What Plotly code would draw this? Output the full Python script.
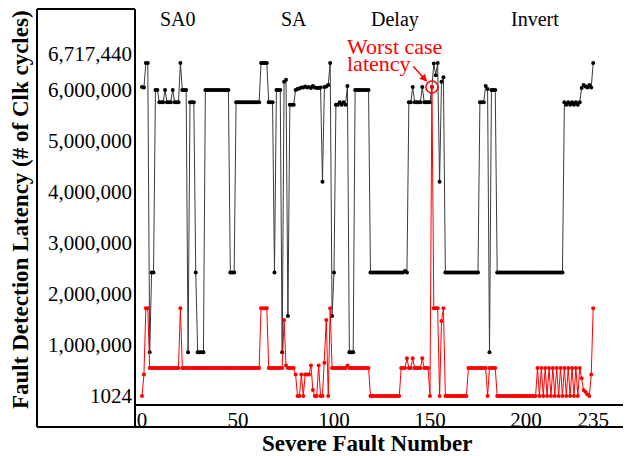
import plotly.graph_objects as go

# ---------------- data ----------------
fault_number = list(range(236))

# black series
latency_black = [
    6060000, 6050000, 6530000, 6530000, 860000, 2420000, 2420000, 6000000, 6000000, 5760000,
    5760000, 5760000, 6000000, 5760000, 5760000, 5760000, 6000000, 5760000, 5760000, 5760000,
    6530000, 6000000, 6000000, 6000000, 860000, 5760000, 5760000, 5760000, 2420000, 860000,
    860000, 860000, 860000, 6000000, 6000000, 6000000, 6000000, 6000000, 6000000, 6000000,
    6000000, 6000000, 6000000, 6000000, 6000000, 6000000, 2420000, 2420000, 2420000, 5760000,
    5760000, 5760000, 5760000, 5760000, 5760000, 5760000, 5760000, 5760000, 5760000, 5760000,
    5760000, 5760000, 6530000, 6530000, 6530000, 6530000, 5760000, 5760000, 5760000, 2420000,
    6000000, 6000000, 6000000, 860000, 6160000, 6200000, 1570000, 5710000, 5710000, 5710000,
    6000000, 6020000, 6030000, 6050000, 6050000, 6070000, 6050000, 6060000, 6040000, 6080000,
    6050000, 6040000, 6040000, 6050000, 4200000, 6060000, 6070000, 6100000, 6530000, 1570000,
    2420000, 5710000, 5710000, 5760000, 5710000, 5760000, 5710000, 6080000, 860000, 860000,
    860000, 6000000, 6000000, 6000000, 6000000, 6000000, 6000000, 6000000, 6000000, 2420000,
    2420000, 2420000, 2420000, 2420000, 2420000, 2420000, 2420000, 2420000, 2420000, 2420000,
    2420000, 2420000, 2420000, 2420000, 2420000, 2420000, 2420000, 2450000, 2420000, 5760000,
    5760000, 6060000, 5760000, 5760000, 5760000, 5760000, 6060000, 5760000, 5760000, 5760000,
    5760000, 6060000, 6520000, 6290000, 6530000, 4200000, 6160000, 6250000, 2420000, 2420000,
    2420000, 2420000, 2420000, 2420000, 2420000, 2420000, 2420000, 2420000, 2420000, 2420000,
    2420000, 2420000, 2420000, 2420000, 2420000, 2420000, 5760000, 5760000, 5760000, 6080000,
    6020000, 860000, 6000000, 6000000, 6000000, 2420000, 2420000, 2420000, 2420000, 2420000,
    2420000, 2420000, 2420000, 2420000, 2420000, 2420000, 2420000, 2420000, 2420000, 2420000,
    2420000, 2420000, 2420000, 2420000, 2420000, 2420000, 2420000, 2420000, 2420000, 2420000,
    2420000, 2420000, 2420000, 2420000, 2420000, 2420000, 2420000, 2420000, 2420000, 2420000,
    5760000, 5710000, 5760000, 5710000, 5760000, 5710000, 5760000, 5710000, 5760000, 6040000,
    6100000, 6070000, 6050000, 6100000, 6050000, 6530000,
]

# red series
latency_red = [
    1024, 420000, 1720000, 1720000, 550000, 550000, 550000, 550000, 550000, 550000,
    550000, 550000, 550000, 550000, 550000, 550000, 550000, 550000, 550000, 550000,
    1720000, 550000, 550000, 550000, 550000, 550000, 550000, 550000, 550000, 550000,
    550000, 550000, 550000, 550000, 550000, 550000, 550000, 550000, 550000, 550000,
    550000, 550000, 550000, 550000, 550000, 550000, 550000, 550000, 550000, 550000,
    550000, 550000, 550000, 550000, 550000, 550000, 550000, 550000, 550000, 550000,
    550000, 550000, 1720000, 1720000, 1720000, 1720000, 550000, 550000, 550000, 550000,
    550000, 550000, 550000, 550000, 1490000, 600000, 550000, 550000, 550000, 550000,
    420000, 1024, 1024, 420000, 1024, 420000, 420000, 420000, 600000, 120000,
    1024, 1024, 600000, 1024, 1024, 650000, 1490000, 1024, 1720000, 550000,
    550000, 550000, 550000, 550000, 550000, 550000, 550000, 600000, 550000, 550000,
    550000, 550000, 550000, 550000, 550000, 550000, 550000, 550000, 550000, 1024,
    1024, 1024, 1024, 1024, 1024, 1024, 1024, 1024, 1024, 1024,
    1024, 1024, 1024, 1024, 1024, 550000, 550000, 550000, 740000, 550000,
    550000, 740000, 550000, 550000, 550000, 550000, 740000, 550000, 550000, 550000,
    1024, 6060000, 1720000, 1720000, 1720000, 1024, 1470000, 1720000, 1024, 1024,
    1024, 1024, 1024, 1024, 1024, 1024, 1024, 1024, 1024, 1024,
    550000, 550000, 550000, 550000, 550000, 550000, 550000, 550000, 550000, 550000,
    1024, 550000, 550000, 550000, 550000, 1024, 1024, 1024, 1024, 1024,
    1024, 1024, 1024, 1024, 1024, 1024, 1024, 1024, 1024, 1024,
    1024, 1024, 1024, 1024, 1024, 1024, 550000, 1024, 550000, 1024,
    550000, 1024, 550000, 1024, 550000, 1024, 550000, 1024, 550000, 1024,
    550000, 1024, 550000, 1024, 550000, 1024, 550000, 1024, 550000, 350000,
    120000, 80000, 30000, 1024, 420000, 1720000,
]

y_tick_values = [1024, 1000000, 2000000, 3000000, 4000000, 5000000, 6000000, 6717440]
y_tick_labels = ["1024", "1,000,000", "2,000,000", "3,000,000", "4,000,000",
                 "5,000,000", "6,000,000", "6,717,440"]
x_tick_values = [0, 50, 100, 150, 200, 235]
x_tick_labels = ["0", "50", "100", "150", "200", "235"]

section_names = ["SA0", "SA", "Delay", "Invert"]
section_centers = [18.7, 79.2, 131.8, 204.7]

# ---------------- figure ----------------
FONT = "Liberation Serif"
OFF = 8                      # page body margin in the browser
W, H = 631 - OFF, 456 - OFF
L, R, T, B = 135 - OFF, 0, 9 - OFF, 51
plot_w = W - L - R
plot_h = H - T - B


def px(X):
    """screen x (window pixels) -> paper coordinate"""
    return (X - OFF - L) / plot_w


def py(Y):
    """screen y (window pixels) -> paper coordinate"""
    return (H - B - (Y - OFF)) / plot_h


fig = go.Figure()
fig.add_trace(go.Scatter(
    x=fault_number, y=latency_black, mode="lines+markers",
    line=dict(color="#3a3a3a", width=1),
    marker=dict(color="black", size=4),
    showlegend=False, hoverinfo="x+y",
))
fig.add_trace(go.Scatter(
    x=fault_number, y=latency_red, mode="lines+markers",
    line=dict(color="#ff0000", width=1),
    marker=dict(color="#ff0000", size=4),
    showlegend=False, hoverinfo="x+y",
))

worst_idx = max(range(len(latency_red)), key=lambda i: latency_red[i])
worst_val = latency_red[worst_idx]

line_style = dict(color="black", width=2)
shapes = [
    dict(type="line", xref="paper", yref="paper", x0=px(37), x1=px(135), y0=py(9), y1=py(9), line=line_style),
    dict(type="line", xref="paper", yref="paper", x0=px(37), x1=px(37), y0=py(9), y1=py(427), line=line_style),
    dict(type="line", xref="paper", yref="paper", x0=px(135), x1=px(135), y0=py(9), y1=py(427), line=line_style),
    dict(type="line", xref="paper", yref="paper", x0=px(135), x1=px(631), y0=py(405), y1=py(405), line=line_style),
    dict(type="line", xref="paper", yref="paper", x0=px(37), x1=px(631), y0=py(427), y1=py(427), line=line_style),
    dict(type="circle", xref="x", yref="y", xsizemode="pixel", ysizemode="pixel",
         xanchor=worst_idx, yanchor=worst_val, x0=-6, x1=6, y0=-6, y1=6,
         line=dict(color="#ff0000", width=1.5)),
]

annotations = []
for name, cx in zip(section_names, section_centers):
    annotations.append(dict(text=name, x=cx, xref="x", y=py(19), yref="paper",
                            showarrow=False, xanchor="center", yanchor="middle",
                            font=dict(family=FONT, size=20, color="black")))

annotations += [
    dict(text="Worst case", x=px(345), xref="paper", y=py(47), yref="paper",
         showarrow=False, xanchor="left", yanchor="middle",
         font=dict(family=FONT, size=22, color="#ff0000")),
    dict(text="latency", x=px(345), xref="paper", y=py(64), yref="paper",
         showarrow=False, xanchor="left", yanchor="middle",
         font=dict(family=FONT, size=22, color="#ff0000")),
    dict(text="", x=worst_idx, y=worst_val, xref="x", yref="y",
         ax=-20, ay=-22, showarrow=True, arrowcolor="#ff0000",
         arrowhead=2, arrowsize=1, arrowwidth=1.5, standoff=7),
    dict(text="<b>Fault Detection Latency (# of Clk cycles)</b>", x=px(20), xref="paper",
         y=py(210), yref="paper", textangle=-90, showarrow=False,
         xanchor="center", yanchor="middle",
         font=dict(family=FONT, size=23, color="black")),
    dict(text="<b>Severe Fault Number</b>", x=px(367), xref="paper",
         y=py(443), yref="paper", showarrow=False,
         xanchor="center", yanchor="middle",
         font=dict(family=FONT, size=23, color="black")),
]

fig.update_layout(
    width=W, height=H, autosize=False,
    margin=dict(l=L, r=R, t=T, b=B, pad=0),
    paper_bgcolor="white", plot_bgcolor="white",
    shapes=shapes, annotations=annotations,
    font=dict(family=FONT, color="black"),
)
fig.update_xaxes(range=[-3.65, 254.7], tickvals=x_tick_values, ticktext=x_tick_labels,
                 showgrid=False, zeroline=False, showline=False, ticks="",
                 tickfont=dict(family=FONT, size=21, color="black"))
fig.update_yaxes(range=[-176000, 7588000], tickvals=y_tick_values, ticktext=y_tick_labels,
                 showgrid=False, zeroline=False, showline=False, ticks="",
                 ticklabelstandoff=2,
                 tickfont=dict(family=FONT, size=21, color="black"))

fig.write_html("out.html")
